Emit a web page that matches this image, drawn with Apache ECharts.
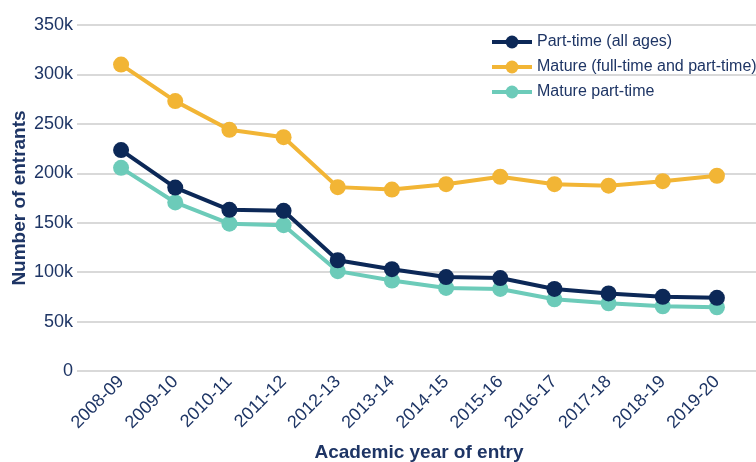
<!DOCTYPE html>
<html>
<head>
<meta charset="utf-8">
<script src="https://cdn.jsdelivr.net/npm/echarts@6/dist/echarts.min.js"></script>
<style>
  html, body { margin: 0; padding: 0; background: #fff; }
  #chart { width: 756px; height: 462px; }
</style>
</head>
<body>
<div id="chart"></div>
<script>
  // academic years on the x axis
  const years = ['2008-09', '2009-10', '2010-11', '2011-12', '2012-13', '2013-14',
    '2014-15', '2015-16', '2016-17', '2017-18', '2018-19', '2019-20']

  // entrants, thousands
  const partTimeAll = [223.5, 185.5, 163, 162, 112, 103, 95, 94, 83, 78.5, 75, 74]
  const matureAll = [310, 273, 244, 236.5, 186, 183.5, 189, 196.5, 189, 187.5, 192, 197.5]
  const maturePartTime = [205.5, 170.5, 149, 147.5, 101, 91.5, 84, 83, 72.5, 68.5, 65.5, 64.5]

  const navy = '#0c2857'
  const orange = '#f2b535'
  const teal = '#6ccbb9'
  const textColor = '#1e3565'
  const font = 'Liberation Sans, Arial, sans-serif'

  function lineSeries (name, data, color, z) {
    return {
      name: name,
      type: 'line',
      xAxisIndex: 0,
      yAxisIndex: 0,
      data: data,
      symbol: 'circle',
      symbolSize: 16,
      z: z,
      lineStyle: { width: 4, color: color },
      itemStyle: { color: color },
      emphasis: { disabled: true }
    }
  }

  const chart = echarts.init(document.getElementById('chart'))
  chart.setOption({
    animation: false,
    textStyle: { fontFamily: font },
    legend: {
      orient: 'vertical',
      left: 485,
      top: 29,
      itemWidth: 40,
      itemHeight: 16,
      itemGap: 9,
      align: 'left',
      lineStyle: { width: 4 },
      textStyle: { color: textColor, fontSize: 16, fontFamily: font },
      data: ['Part-time (all ages)', 'Mature (full-time and part-time)', 'Mature part-time']
    },
    grid: [
      { left: 94, right: 12, top: 25, bottom: 91, outerBoundsMode: 'none' },
      { left: 77, right: 0, top: 25, bottom: 91, outerBoundsMode: 'none' }
    ],
    xAxis: [
      {
        type: 'category',
        gridIndex: 0,
        data: years,
        boundaryGap: true,
        axisLine: { show: false },
        axisTick: { show: false },
        axisLabel: {
          rotate: 45,
          interval: 0,
          margin: 8,
          color: textColor,
          fontSize: 18,
          fontFamily: font
        },
        name: 'Academic year of entry',
        nameLocation: 'middle',
        nameGap: 72,
        nameMoveOverlap: false,
        nameTextStyle: { color: textColor, fontSize: 19, fontWeight: 'bold', fontFamily: font }
      },
      {
        type: 'value',
        gridIndex: 1,
        show: false
      }
    ],
    yAxis: [
      {
        type: 'value',
        gridIndex: 0,
        min: 0,
        max: 350,
        interval: 50,
        show: false,
        splitLine: { show: false }
      },
      {
        type: 'value',
        gridIndex: 1,
        min: 0,
        max: 350,
        interval: 50,
        axisLine: { show: false },
        axisTick: { show: false },
        splitLine: { lineStyle: { color: '#d9d9d9', width: 2 } },
        axisLabel: {
          margin: 4,
          color: textColor,
          fontSize: 18,
          fontFamily: font,
          formatter: v => v === 0 ? '0' : v + 'k'
        },
        name: 'Number of entrants',
        nameLocation: 'middle',
        nameGap: 48,
        nameMoveOverlap: false,
        nameTextStyle: { color: textColor, fontSize: 19, fontWeight: 'bold', fontFamily: font }
      }
    ],
    series: [
      lineSeries('Part-time (all ages)', partTimeAll, navy, 4),
      lineSeries('Mature (full-time and part-time)', matureAll, orange, 3),
      lineSeries('Mature part-time', maturePartTime, teal, 2)
    ]
  })
</script>
</body>
</html>
